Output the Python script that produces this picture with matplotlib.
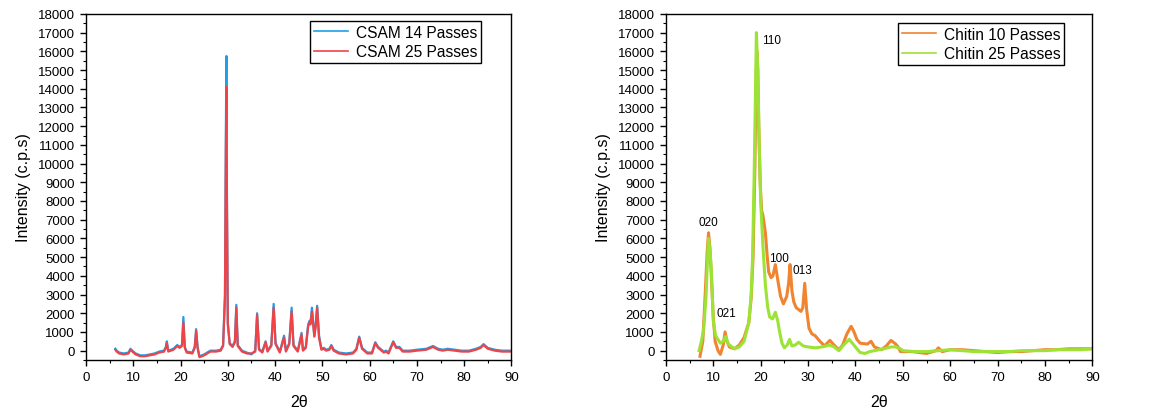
import matplotlib.pyplot as plt
from matplotlib.ticker import MultipleLocator

plt.rcParams.update({
    "font.family": ["Liberation Sans", "DejaVu Sans"],
    "font.size": 9.5,
    "axes.linewidth": 1.0,
})

# values: (2theta, intensity)
csam14 = [
    (6.2, 100), (6.5, 0), (7.0, -100), (8.0, -150), (9.0, -100), (9.4, 100),
    (9.8, 0), (10.5, -150), (11.5, -250), (12.5, -250), (13.5, -200),
    (14.5, -150), (15.5, -50), (16.5, 0), (16.9, 200), (17.1, 500), (17.4, 0),
    (18.5, 100), (19.3, 300), (19.8, 200), (20.3, 300), (20.6, 1800),
    (20.9, 200), (21.3, -50), (22.5, -100), (23.0, 200), (23.3, 1150),
    (23.6, 200), (24.0, -300), (25.0, -200), (26.3, 0), (27.5, 0), (28.5, 50),
    (29.0, 300), (29.4, 3000), (29.6, 12000), (29.7, 15750), (29.8, 9000),
    (30.0, 1500), (30.4, 400), (31.0, 250), (31.5, 500), (31.8, 2450),
    (32.1, 300), (33.0, 0), (34.0, -100), (35.0, -200), (35.8, 0),
    (36.2, 2000), (36.6, 100), (37.3, -50), (38.0, 500), (38.4, 0),
    (39.2, 300), (39.7, 2500), (40.1, 400), (41.0, -50), (41.9, 800),
    (42.3, 0), (43.0, 400), (43.5, 2300), (43.9, 300), (44.8, 0),
    (45.6, 950), (45.9, 50), (46.5, 200), (47.0, 1400), (47.3, 1600),
    (47.5, 1500), (47.8, 2300), (48.0, 1700), (48.3, 800), (48.6, 1400),
    (48.9, 2400), (49.3, 800), (49.8, 100), (50.3, 150), (50.8, 50),
    (51.5, 100), (51.9, 300), (52.4, 50), (53.5, -100), (55.0, -150),
    (56.5, -100), (57.2, 100), (57.8, 750), (58.4, 150), (59.5, -100),
    (60.5, -100), (61.2, 450), (61.8, 200), (63.0, -50), (63.5, 0),
    (64.0, -100), (65.0, 500), (65.6, 200), (66.3, 200), (67.0, 0),
    (68.5, 0), (70.0, 50), (72.0, 100), (73.4, 250), (74.5, 100),
    (75.5, 50), (76.5, 100), (78.0, 50), (79.5, 0), (81.0, 0), (82.5, 100),
    (83.5, 200), (84.1, 350), (85.0, 150), (86.5, 50), (88.0, 0), (90.0, 0),
]

csam25 = [
    (6.2, 50), (6.5, -50), (7.0, -150), (8.0, -200), (9.0, -150), (9.4, 50),
    (9.8, -50), (10.5, -200), (11.5, -300), (12.5, -300), (13.5, -250),
    (14.5, -200), (15.5, -100), (16.5, -50), (16.9, 150), (17.1, 400),
    (17.4, -50), (18.5, 50), (19.3, 250), (19.8, 150), (20.3, 250),
    (20.6, 1500), (20.9, 150), (21.3, -100), (22.5, -150), (23.0, 150),
    (23.3, 1050), (23.6, 150), (24.0, -350), (25.0, -250), (26.3, -50),
    (27.5, -50), (28.5, 0), (29.0, 250), (29.4, 2800), (29.6, 11000),
    (29.7, 14100), (29.8, 8500), (30.0, 1400), (30.4, 350), (31.0, 200),
    (31.5, 450), (31.8, 2300), (32.1, 250), (33.0, -50), (34.0, -150),
    (35.0, -150), (35.8, -50), (36.2, 1900), (36.6, 50), (37.3, -100),
    (38.0, 450), (38.4, -50), (39.2, 250), (39.7, 2300), (40.1, 350),
    (41.0, -100), (41.9, 700), (42.3, -50), (43.0, 350), (43.5, 2100),
    (43.9, 250), (44.8, -50), (45.6, 850), (45.9, 0), (46.5, 150),
    (47.0, 1300), (47.3, 1500), (47.5, 1400), (47.8, 2100), (48.0, 1600),
    (48.3, 750), (48.6, 1300), (48.9, 2300), (49.3, 700), (49.8, 50),
    (50.3, 100), (50.8, 0), (51.5, 50), (51.9, 250), (52.4, 0),
    (53.5, -150), (55.0, -200), (56.5, -150), (57.2, 50), (57.8, 700),
    (58.4, 100), (59.5, -150), (60.5, -150), (61.2, 400), (61.8, 150),
    (63.0, -100), (63.5, -50), (64.0, -150), (65.0, 450), (65.6, 150),
    (66.3, 150), (67.0, -50), (68.5, -50), (70.0, 0), (72.0, 50),
    (73.4, 200), (74.5, 50), (75.5, 0), (76.5, 50), (78.0, 0), (79.5, -50),
    (81.0, -50), (82.5, 50), (83.5, 150), (84.1, 300), (85.0, 100),
    (86.5, 0), (88.0, -50), (90.0, -50),
]

chitin10 = [
    (7.2, -300), (7.8, 500), (8.3, 3000), (8.7, 5200), (9.0, 6300),
    (9.3, 5500), (9.6, 4000), (10.0, 1800), (10.4, 500), (11.0, 0),
    (11.5, -200), (12.1, 300), (12.5, 1000), (12.9, 500), (13.4, 200),
    (14.5, 100), (15.5, 300), (16.5, 700), (17.5, 1500), (18.0, 2800),
    (18.4, 5000), (18.8, 10000), (19.0, 14000), (19.2, 16000), (19.4, 15000),
    (19.6, 12000), (19.9, 9000), (20.2, 7500), (20.5, 7200), (21.0, 6300),
    (21.4, 5000), (21.7, 4200), (22.2, 3900), (22.6, 4000), (23.1, 4600),
    (23.6, 3800), (24.2, 2900), (24.8, 2500), (25.5, 2900), (25.9, 3600),
    (26.2, 4600), (26.6, 3200), (27.0, 2600), (27.5, 2300), (28.5, 2100),
    (28.9, 2300), (29.3, 3600), (29.7, 2200), (30.2, 1200), (30.8, 900),
    (31.5, 800), (32.5, 500), (33.5, 250), (34.6, 550), (35.5, 300),
    (36.5, 50), (37.3, 300), (38.2, 900), (39.1, 1300), (39.7, 1000),
    (40.3, 600), (41.0, 400), (42.5, 350), (43.3, 500), (44.0, 200),
    (45.5, 50), (46.5, 250), (47.5, 550), (48.5, 350), (49.0, 200),
    (49.5, -50), (52.0, -50), (55.0, -150), (57.0, 0), (57.5, 150),
    (58.3, -50), (60.0, 50), (62.5, 50), (65.0, 0), (67.5, -50), (70.0, -100),
    (72.5, -50), (75.0, -50), (77.5, 0), (80.0, 50), (82.5, 50), (85.0, 100),
    (87.5, 100), (90.0, 100),
]

chitin25 = [
    (7.0, 0), (7.5, 500), (8.0, 1200), (8.5, 3000), (8.8, 5000), (9.0, 6000),
    (9.3, 5400), (9.6, 4300), (10.0, 1600), (10.5, 800), (11.5, 400),
    (12.1, 500), (12.6, 750), (13.2, 350), (14.5, 100), (15.5, 200),
    (16.5, 500), (17.5, 1500), (18.0, 3000), (18.3, 5000), (18.6, 9000),
    (18.8, 12000), (19.1, 17000), (19.4, 15000), (19.7, 11000), (20.0, 8000),
    (20.5, 5500), (21.0, 3500), (21.5, 2300), (21.9, 1800), (22.5, 1700),
    (23.1, 2050), (23.6, 1600), (24.0, 1000), (24.5, 400), (25.0, 150),
    (25.6, 300), (26.1, 600), (26.6, 250), (27.3, 300), (28.0, 450),
    (29.0, 250), (30.0, 200), (31.5, 150), (33.0, 200), (34.5, 300),
    (35.5, 200), (36.5, 0), (37.5, 300), (38.7, 600), (39.5, 350),
    (40.3, 100), (41.0, -100), (42.0, -150), (43.0, -50), (44.0, 0),
    (46.0, 100), (47.5, 200), (48.5, 200), (49.5, 100), (50.0, 0),
    (52.5, -50), (55.0, -50), (57.5, 0), (60.0, 50), (62.5, 0), (65.0, -50),
    (67.5, -50), (70.0, -50), (72.5, -50), (75.0, 0), (77.5, 0), (80.0, 0),
    (82.5, 50), (85.0, 50), (87.5, 50), (90.0, 100),
]

# peak (hkl) labels on the chitin panel
hkl_labels = ["020", "021", "110", "100", "013"]
hkl_x = [8.9, 12.7, 22.3, 23.8, 28.9]
hkl_y = [6900, 2000, 16600, 4970, 4320]


def style_axis(ax):
    ax.set_xlim(0, 90)
    ax.set_ylim(-500, 18000)
    ax.xaxis.set_major_locator(MultipleLocator(10))
    ax.xaxis.set_minor_locator(MultipleLocator(5))
    ax.yaxis.set_major_locator(MultipleLocator(1000))
    ax.yaxis.set_minor_locator(MultipleLocator(500))
    ax.tick_params(which="major", direction="out", length=4.5, width=1.0,
                   labelsize=9.5, top=False, right=False)
    ax.tick_params(which="minor", direction="out", length=2.5, width=0.8,
                   top=False, right=False)
    ax.set_xlabel("2θ", fontsize=11.5, labelpad=8)
    ax.set_ylabel("Intensity (c.p.s)", fontsize=11.5, labelpad=5)


def unzip(pts):
    return [p[0] for p in pts], [p[1] for p in pts]


fig = plt.figure(figsize=(11.56, 4.14), dpi=100)
ax1 = fig.add_axes([0.0744, 0.128, 0.368, 0.836])
ax2 = fig.add_axes([0.576, 0.128, 0.369, 0.836])

x, y = unzip(csam14)
ax1.plot(x, y, color="#1E9FEA", lw=1.6, label="CSAM 14 Passes")
x, y = unzip(csam25)
ax1.plot(x, y, color="#EE4448", lw=1.6, label="CSAM 25 Passes")

x, y = unzip(chitin10)
ax2.plot(x, y, color="#F08431", lw=2.2, label="Chitin 10 Passes")
x, y = unzip(chitin25)
ax2.plot(x, y, color="#9DE335", lw=2.2, label="Chitin 25 Passes")

for lab, hx, hy in zip(hkl_labels, hkl_x, hkl_y):
    ax2.text(hx, hy, lab, fontsize=8.5, ha="center", va="center")

for ax, anchor in [(ax1, (0.929, 0.98)), (ax2, (0.934, 0.974))]:
    style_axis(ax)
    leg = ax.legend(loc="upper right", bbox_to_anchor=anchor, fontsize=11.2,
                    fancybox=False, edgecolor="black", framealpha=1,
                    handlelength=2.2, handletextpad=0.5, borderpad=0.25,
                    labelspacing=0.3, borderaxespad=0)
    leg.get_frame().set_linewidth(1.0)
    for line in leg.get_lines():
        line.set_linewidth(1.2)

fig.savefig("out.png", dpi=100)
